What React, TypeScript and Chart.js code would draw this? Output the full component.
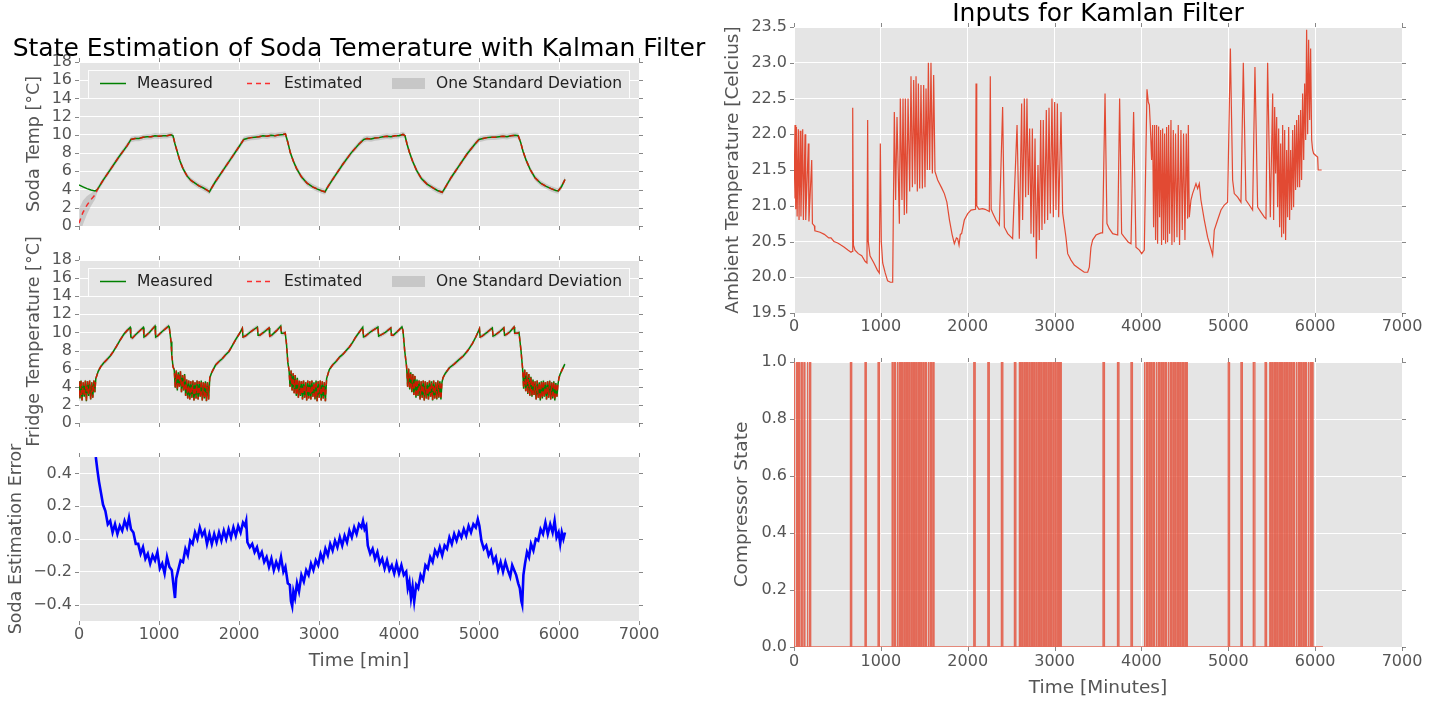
import React, { useEffect, useRef } from "react";
import { Chart, registerables } from "chart.js";
Chart.register(...registerables);

const FONT = "'DejaVu Sans', 'Liberation Sans', sans-serif";
Chart.defaults.font.family = FONT;

// ---------------- tick labels ----------------
const timeTicks = [0, 1000, 2000, 3000, 4000, 5000, 6000, 7000];
const tempTicks = [0, 2, 4, 6, 8, 10, 12, 14, 16, 18];
const errorTicks = [-0.4, -0.2, 0, 0.2, 0.4];
const ambientTicks = [19.5, 20, 20.5, 21, 21.5, 22, 22.5, 23, 23.5];
const compressorTicks = [0, 0.2, 0.4, 0.6, 0.8, 1.0];

const leftTitle = "State Estimation of Soda Temerature with Kalman Filter";
const rightTitle = "Inputs for Kamlan Filter";
const legendLabels = ["Measured", "Estimated", "One Standard Deviation"];

// ---------------- soda temperature [t(min), °C] ----------------
const sodaMeasured: [number, number][] = [
  [0, 4.5], [50, 4.3], [100, 4.1], [150, 3.95], [200, 3.85], [230, 4.0], [300, 5.0], [400, 6.3], [500, 7.6], [600, 8.8],
  [650, 9.5], [700, 9.6], [750, 9.6], [800, 9.75], [850, 9.8], [900, 9.8], [950, 9.9], [1000, 9.85], [1050, 9.9], [1100, 9.9],
  [1150, 10.0], [1175, 9.9], [1200, 9.0], [1230, 8.1], [1260, 7.2], [1300, 6.3], [1350, 5.5], [1400, 5.0], [1450, 4.7], [1500, 4.4],
  [1550, 4.2], [1600, 3.95], [1630, 3.75], [1660, 4.2], [1700, 4.8], [1800, 6.1], [1900, 7.4], [2000, 8.7], [2060, 9.5], [2100, 9.6],
  [2150, 9.7], [2200, 9.75], [2250, 9.8], [2300, 9.9], [2350, 9.85], [2400, 9.95], [2450, 9.9], [2500, 10.0], [2550, 10.05], [2580, 10.1],
  [2610, 9.2], [2640, 8.1], [2680, 7.1], [2720, 6.3], [2780, 5.4], [2850, 4.7], [2920, 4.3], [2980, 4.05], [3040, 3.85], [3075, 3.75],
  [3110, 4.3], [3200, 5.5], [3300, 6.8], [3400, 8.0], [3500, 9.0], [3560, 9.5], [3600, 9.6], [3650, 9.55], [3700, 9.65], [3750, 9.7],
  [3800, 9.8], [3850, 9.85], [3900, 9.8], [3950, 9.9], [4000, 9.9], [4050, 10.05], [4075, 9.9], [4100, 9.0], [4130, 8.1], [4170, 7.1],
  [4220, 6.1], [4280, 5.2], [4350, 4.6], [4420, 4.2], [4480, 3.9], [4540, 3.7], [4570, 4.1], [4650, 5.3], [4750, 6.6], [4850, 7.9],
  [4950, 9.0], [5000, 9.5], [5050, 9.6], [5100, 9.7], [5150, 9.75], [5200, 9.75], [5250, 9.8], [5300, 9.85], [5350, 9.8], [5400, 9.9],
  [5450, 9.95], [5490, 9.9], [5520, 9.2], [5550, 8.2], [5590, 7.2], [5640, 6.2], [5700, 5.3], [5770, 4.7], [5840, 4.35], [5900, 4.1],
  [5960, 3.9], [5990, 3.85], [6030, 4.3], [6075, 5.1],
];
// the estimate starts low and joins the measurement near t = 230 min
const sodaEstimatedStart: [number, number][] = [[0, 0.3], [50, 1.5], [100, 2.3], [150, 2.9], [200, 3.4]];
const sodaStdStart: [number, number][] = [[0, 1.6], [50, 1.3], [100, 1.0], [150, 0.7], [200, 0.5]];
const sodaStdSteady = 0.3;

// ---------------- fridge temperature [t(min), °C] ----------------
const fridgeMeasured: [number, number][] = [
  [0, 4.6], [12, 2.7], [25, 4.7], [38, 2.5], [52, 4.5], [65, 2.9], [80, 4.7], [92, 2.4], [106, 4.6], [120, 3.0],
  [133, 4.7], [146, 2.6], [160, 4.5], [172, 2.8], [186, 4.7], [198, 3.4],
  [210, 4.9], [240, 5.7], [270, 6.2], [305, 6.6], [350, 7.0], [390, 7.4], [430, 7.9], [470, 8.5], [510, 9.1], [560, 9.8],
  [600, 10.2], [640, 10.55], [648, 9.5], [670, 9.4], [700, 9.7], [750, 10.1], [805, 10.55], [812, 9.5], [830, 9.6], [880, 10.0],
  [950, 10.7], [958, 9.5], [980, 9.6], [1040, 10.1], [1120, 10.7], [1128, 10.6], [1150, 9.0], [1160, 7.5], [1175, 6.2],
  [1190, 5.9], [1203, 3.9], [1216, 5.8], [1229, 3.6], [1242, 5.6], [1255, 4.0], [1268, 5.7], [1281, 3.4], [1294, 5.3], [1307, 3.6],
  [1320, 5.4], [1333, 3.0], [1346, 4.8], [1359, 2.7], [1372, 4.7], [1385, 2.6], [1398, 4.6], [1411, 2.8], [1424, 4.7], [1437, 2.5],
  [1450, 4.5], [1463, 2.7], [1476, 4.7], [1489, 2.6], [1502, 4.6], [1515, 2.9], [1528, 4.7], [1541, 2.5], [1554, 4.5], [1567, 2.7],
  [1580, 4.6], [1593, 2.4], [1606, 4.5], [1620, 2.6],
  [1635, 5.0], [1660, 5.6], [1707, 6.4], [1750, 6.8], [1790, 7.1], [1830, 7.5], [1874, 7.9], [1920, 8.6], [1958, 9.2], [2000, 9.8],
  [2042, 10.45], [2050, 9.5], [2080, 9.6], [2150, 10.1], [2230, 10.6], [2238, 9.7], [2260, 9.7], [2320, 10.1], [2376, 10.5], [2384, 9.6],
  [2410, 9.7], [2470, 10.2], [2522, 10.7], [2530, 9.9], [2560, 9.9], [2577, 10.0], [2594, 8.7], [2611, 6.6], [2625, 5.9],
  [2638, 4.0], [2651, 5.8], [2664, 3.6], [2677, 5.5], [2690, 3.3], [2703, 5.3], [2716, 3.0], [2729, 5.0], [2742, 2.8], [2755, 4.7],
  [2768, 3.0], [2781, 4.6], [2794, 2.6], [2807, 4.7], [2820, 2.8], [2833, 4.5], [2846, 2.5], [2859, 4.7], [2872, 2.7], [2885, 4.6],
  [2898, 2.6], [2911, 4.7], [2924, 2.9], [2937, 4.5], [2950, 2.6], [2963, 4.7], [2976, 2.4], [2989, 4.6], [3002, 2.8], [3015, 4.7],
  [3028, 2.5], [3041, 4.6], [3054, 2.7], [3067, 4.5], [3080, 2.4],
  [3095, 4.9], [3129, 5.9], [3170, 6.4], [3213, 6.8], [3260, 7.3], [3300, 7.6], [3340, 8.0], [3380, 8.4], [3420, 8.9], [3460, 9.5],
  [3500, 10.0], [3547, 10.56], [3556, 9.5], [3580, 9.6], [3650, 10.1], [3737, 10.6], [3745, 9.6], [3770, 9.7], [3830, 10.0], [3898, 10.5],
  [3906, 9.7], [3930, 9.7], [3980, 10.1], [4037, 10.6], [4050, 10.2], [4071, 8.0], [4095, 6.2],
  [4108, 4.0], [4121, 6.0], [4134, 3.7], [4147, 5.6], [4160, 3.4], [4173, 5.4], [4186, 3.1], [4199, 5.2], [4212, 2.8], [4225, 4.8],
  [4238, 3.0], [4251, 4.7], [4264, 2.6], [4277, 4.6], [4290, 2.8], [4303, 4.7], [4316, 2.5], [4329, 4.6], [4342, 2.7], [4355, 4.5],
  [4368, 2.6], [4381, 4.7], [4394, 2.9], [4407, 4.6], [4420, 2.5], [4433, 4.7], [4446, 2.7], [4459, 4.5], [4472, 2.6], [4485, 4.7],
  [4498, 2.8], [4511, 4.6], [4524, 2.6], [4537, 4.5],
  [4550, 5.0], [4580, 5.5], [4630, 6.1], [4689, 6.5], [4750, 7.0], [4804, 7.4], [4860, 8.0], [4919, 8.8], [4960, 9.5], [5006, 10.4],
  [5014, 9.5], [5040, 9.6], [5100, 10.0], [5167, 10.5], [5175, 9.6], [5200, 9.7], [5260, 10.1], [5311, 10.5], [5319, 9.7], [5345, 9.8],
  [5390, 10.1], [5438, 10.6], [5446, 9.9], [5480, 9.9], [5500, 10.0], [5525, 8.0], [5545, 6.0],
  [5558, 3.8], [5571, 5.9], [5584, 3.5], [5597, 5.6], [5610, 3.2], [5623, 5.4], [5636, 3.0], [5649, 5.1], [5662, 2.9], [5675, 4.8],
  [5688, 3.1], [5701, 4.6], [5714, 2.6], [5727, 4.7], [5740, 2.8], [5753, 4.5], [5766, 2.5], [5779, 4.6], [5792, 2.7], [5805, 4.7],
  [5818, 2.9], [5831, 4.5], [5844, 2.6], [5857, 4.6], [5870, 2.8], [5883, 4.7], [5896, 2.6], [5909, 4.5], [5922, 2.7], [5935, 4.6],
  [5948, 2.5], [5961, 4.4], [5974, 2.9], [5986, 4.2],
  [6000, 5.0], [6015, 5.4], [6040, 5.9], [6073, 6.5],
];
const fridgeStd = 0.25;

// ---------------- soda estimation error [t(min), °C] ----------------
const errorReadings: [number, number][] = [
  [210, 0.5], [230, 0.42], [250, 0.35], [275, 0.28], [300, 0.21], [330, 0.17], [360, 0.09], [390, 0.11], [420, 0.04], [450, 0.09],
  [480, 0.03], [510, 0.08], [540, 0.05], [570, 0.11], [600, 0.07], [625, 0.13], [650, 0.06], [680, 0.04], [710, -0.03], [740, -0.03],
  [770, -0.09], [800, -0.05], [830, -0.12], [860, -0.09], [890, -0.15], [920, -0.1], [950, -0.13], [980, -0.08], [1010, -0.18], [1040, -0.15],
  [1070, -0.21], [1100, -0.11], [1130, -0.17], [1160, -0.19], [1185, -0.3], [1200, -0.36], [1215, -0.24], [1240, -0.19], [1270, -0.13], [1300, -0.14],
  [1330, -0.06], [1360, -0.1], [1390, -0.01], [1420, -0.03], [1450, 0.04], [1480, 0.0], [1510, 0.07], [1540, 0.02], [1570, 0.05], [1600, -0.03],
  [1630, 0.03], [1660, -0.03], [1690, 0.03], [1720, -0.02], [1750, 0.04], [1780, -0.01], [1810, 0.05], [1840, 0.0], [1870, 0.06], [1900, 0.01],
  [1930, 0.07], [1960, 0.02], [1990, 0.08], [2020, 0.04], [2050, 0.1], [2075, 0.08], [2090, 0.11], [2105, -0.02], [2135, -0.05], [2165, -0.03],
  [2195, -0.08], [2225, -0.05], [2255, -0.11], [2285, -0.08], [2315, -0.14], [2345, -0.11], [2375, -0.17], [2405, -0.12], [2435, -0.19], [2465, -0.14],
  [2495, -0.18], [2525, -0.11], [2555, -0.2], [2580, -0.17], [2610, -0.27], [2635, -0.28], [2650, -0.38], [2665, -0.41], [2680, -0.32], [2700, -0.36],
  [2725, -0.27], [2750, -0.32], [2780, -0.22], [2810, -0.26], [2840, -0.19], [2870, -0.22], [2900, -0.15], [2930, -0.19], [2960, -0.13], [2990, -0.16],
  [3020, -0.09], [3050, -0.13], [3080, -0.06], [3110, -0.1], [3140, -0.03], [3170, -0.07], [3200, -0.01], [3230, -0.05], [3260, 0.01], [3290, -0.04],
  [3320, 0.02], [3350, -0.02], [3380, 0.05], [3410, 0.01], [3440, 0.07], [3470, 0.03], [3500, 0.09], [3530, 0.07], [3550, 0.11], [3570, 0.06],
  [3590, 0.08], [3610, -0.04], [3640, -0.09], [3670, -0.06], [3700, -0.12], [3730, -0.08], [3760, -0.15], [3790, -0.12], [3820, -0.18], [3850, -0.13],
  [3880, -0.19], [3910, -0.16], [3940, -0.21], [3970, -0.15], [4000, -0.21], [4030, -0.16], [4060, -0.22], [4090, -0.2], [4110, -0.3], [4130, -0.26],
  [4150, -0.36], [4170, -0.29], [4190, -0.38], [4215, -0.28], [4240, -0.3], [4270, -0.22], [4300, -0.25], [4330, -0.16], [4360, -0.18], [4390, -0.11],
  [4420, -0.14], [4450, -0.07], [4480, -0.1], [4510, -0.05], [4540, -0.1], [4570, -0.04], [4600, -0.06], [4630, 0.01], [4660, -0.03], [4690, 0.03],
  [4720, -0.01], [4750, 0.04], [4780, 0.01], [4810, 0.06], [4840, 0.02], [4870, 0.08], [4900, 0.04], [4930, 0.09], [4960, 0.07], [4985, 0.12],
  [5005, 0.08], [5030, -0.01], [5060, -0.06], [5090, -0.04], [5120, -0.1], [5150, -0.07], [5180, -0.14], [5210, -0.11], [5240, -0.19], [5270, -0.14],
  [5300, -0.2], [5330, -0.14], [5360, -0.19], [5390, -0.23], [5415, -0.16], [5440, -0.19], [5465, -0.22], [5490, -0.27], [5510, -0.3], [5530, -0.38],
  [5540, -0.4], [5555, -0.22], [5575, -0.15], [5600, -0.08], [5625, -0.11], [5650, -0.03], [5680, -0.07], [5710, 0.0], [5740, -0.01], [5770, 0.06],
  [5800, 0.03], [5830, 0.1], [5860, 0.03], [5890, 0.09], [5920, 0.04], [5945, 0.11], [5970, 0.01], [5995, 0.04], [6015, -0.03], [6035, 0.04],
  [6055, 0.0], [6075, 0.04],
];

// ---------------- ambient temperature [t(min), °C] ----------------
const ambientReadings: [number, number][] = [
  [0, 21.1], [12, 22.13], [20, 20.95], [28, 22.1], [36, 20.85], [50, 22.07], [58, 20.8], [72, 22.05], [80, 20.85], [100, 22.07],
  [108, 20.8], [127, 22.0], [135, 20.8], [165, 21.87], [172, 20.78], [204, 21.64], [212, 20.75], [234, 20.72], [240, 20.65], [300, 20.63],
  [349, 20.6], [400, 20.55], [426, 20.55], [460, 20.5], [503, 20.48], [540, 20.45], [579, 20.42], [620, 20.38], [656, 20.35], [668, 20.36],
  [676, 22.37], [684, 20.45], [702, 20.38], [740, 20.33], [780, 20.3], [820, 20.22], [840, 20.2], [848, 22.2], [855, 20.5], [875, 20.3],
  [920, 20.2], [960, 20.1], [982, 20.06], [994, 21.87], [1005, 20.5], [1021, 20.2], [1050, 20.06], [1078, 19.95], [1110, 19.93], [1136, 19.93],
  [1155, 22.31], [1170, 21.08], [1186, 22.24], [1213, 20.75], [1224, 22.5], [1243, 21.08], [1255, 22.5], [1270, 20.87], [1282, 22.5], [1297, 20.89],
  [1313, 22.5], [1332, 21.2], [1347, 22.81], [1363, 21.26], [1378, 22.76], [1393, 21.3], [1405, 22.81], [1420, 21.2], [1432, 22.71], [1447, 21.24],
  [1462, 22.69], [1478, 21.24], [1493, 22.69], [1508, 21.26], [1520, 22.64], [1535, 21.5], [1547, 23.0], [1562, 21.5], [1577, 23.0], [1593, 21.45],
  [1608, 22.83], [1623, 21.48], [1654, 21.36], [1700, 21.25], [1731, 21.17], [1760, 21.05], [1790, 20.8], [1820, 20.6], [1846, 20.47], [1870, 20.55],
  [1884, 20.54], [1900, 20.45], [1915, 20.6], [1930, 20.61], [1961, 20.8], [2000, 20.89], [2038, 20.94], [2090, 20.95], [2096, 22.71], [2104, 21.0],
  [2130, 20.95], [2170, 20.96], [2200, 20.95], [2249, 20.92], [2260, 22.81], [2270, 20.95], [2290, 20.89], [2326, 20.8], [2364, 20.73], [2402, 22.38],
  [2422, 20.7], [2460, 20.61], [2517, 20.54], [2568, 22.13], [2594, 20.54], [2621, 22.43], [2632, 20.8], [2652, 22.5], [2667, 21.12], [2682, 22.5],
  [2698, 21.15], [2713, 22.08], [2729, 20.61], [2744, 22.08], [2759, 20.56], [2775, 21.94], [2790, 20.26], [2809, 21.57], [2824, 20.52], [2840, 22.2],
  [2855, 20.66], [2870, 22.2], [2886, 20.75], [2905, 22.34], [2920, 20.8], [2936, 22.37], [2951, 20.89], [2970, 22.5], [2986, 20.84], [3001, 22.45],
  [3016, 20.94], [3032, 22.43], [3047, 20.84], [3074, 22.31], [3093, 20.9], [3131, 20.56], [3151, 20.33], [3189, 20.24], [3227, 20.17], [3285, 20.12],
  [3342, 20.07], [3381, 20.07], [3400, 20.14], [3419, 20.42], [3438, 20.52], [3477, 20.59], [3534, 20.62], [3553, 20.62], [3581, 22.57], [3603, 20.75],
  [3630, 20.68], [3669, 20.61], [3727, 20.59], [3749, 22.5], [3772, 20.61], [3803, 20.56], [3849, 20.49], [3880, 20.47], [3910, 22.31], [3937, 20.42],
  [3976, 20.38], [4003, 20.33], [4033, 20.38], [4064, 22.63], [4079, 22.45], [4091, 22.41], [4102, 22.13], [4117, 21.64], [4129, 22.13], [4140, 20.7],
  [4152, 22.13], [4163, 20.52], [4175, 22.13], [4186, 20.47], [4198, 22.11], [4209, 20.84], [4221, 22.06], [4232, 20.45], [4244, 22.08], [4255, 20.52],
  [4267, 22.01], [4278, 20.47], [4290, 22.1], [4301, 20.49], [4313, 22.13], [4324, 20.61], [4340, 22.2], [4351, 20.45], [4367, 22.06], [4378, 20.49],
  [4393, 22.01], [4409, 20.56], [4424, 22.13], [4439, 20.45], [4455, 22.06], [4470, 20.66], [4485, 22.01], [4501, 20.52], [4516, 22.01], [4532, 20.82],
  [4540, 22.13], [4551, 20.84], [4570, 21.08], [4589, 21.17], [4609, 21.24], [4628, 21.31], [4647, 21.24], [4666, 21.31], [4685, 21.08], [4724, 20.8],
  [4762, 20.56], [4800, 20.4], [4820, 20.31], [4839, 20.66], [4877, 20.8], [4916, 20.94], [4954, 21.01], [4992, 21.05], [5024, 23.2], [5050, 21.36],
  [5069, 21.17], [5108, 21.12], [5146, 21.05], [5173, 23.0], [5203, 21.08], [5242, 21.01], [5280, 20.94], [5307, 22.94], [5338, 20.98], [5376, 20.91],
  [5415, 20.84], [5434, 20.82], [5453, 23.0], [5484, 20.84], [5511, 22.57], [5522, 20.8], [5534, 22.38], [5545, 21.45], [5557, 22.24], [5568, 20.98],
  [5580, 22.08], [5591, 20.7], [5603, 21.87], [5614, 20.56], [5626, 22.13], [5637, 20.61], [5649, 22.06], [5660, 20.52], [5672, 21.78], [5683, 20.84],
  [5695, 22.1], [5706, 20.8], [5718, 21.78], [5729, 20.94], [5741, 22.06], [5752, 20.98], [5764, 22.13], [5775, 21.22], [5787, 22.2], [5798, 21.26],
  [5810, 22.27], [5821, 21.26], [5833, 22.34], [5844, 21.36], [5856, 22.57], [5868, 21.64], [5879, 22.71], [5891, 21.92], [5902, 23.46], [5914, 22.0],
  [5925, 23.32], [5937, 22.2], [5948, 23.2], [5960, 21.92], [5971, 21.78], [5983, 21.73], [6010, 21.7], [6029, 21.68], [6035, 21.5], [6075, 21.5],
];

// ---------------- compressor on-intervals [start, end] (min) ----------------
const compressorOn: [number, number][] = [
  [0, 10], [30, 40], [55, 65], [85, 95], [115, 125], [150, 160], [180, 192],
  [650, 664], [818, 832], [968, 984],
  [1130, 1141], [1158, 1169], [1186, 1197], [1213, 1224], [1240, 1251], [1268, 1279], [1295, 1306], [1322, 1333], [1350, 1361],
  [1377, 1388], [1404, 1415], [1432, 1443], [1459, 1470], [1487, 1498], [1515, 1526], [1543, 1554], [1570, 1581], [1598, 1612],
  [2070, 2086], [2232, 2248], [2388, 2404], [2538, 2554],
  [2595, 2606], [2622, 2633], [2650, 2661], [2677, 2688], [2705, 2716], [2733, 2744], [2760, 2771], [2788, 2799], [2816, 2827],
  [2843, 2854], [2871, 2882], [2898, 2909], [2926, 2937], [2953, 2964], [2981, 2992], [3008, 3019], [3036, 3047], [3062, 3077],
  [3558, 3574], [3725, 3741], [3880, 3896],
  [4030, 4041], [4058, 4069], [4086, 4097], [4113, 4124], [4141, 4152], [4168, 4179], [4196, 4207], [4224, 4235], [4251, 4262],
  [4279, 4290], [4306, 4317], [4334, 4345], [4362, 4373], [4389, 4400], [4417, 4428], [4444, 4455], [4472, 4483], [4500, 4511],
  [4518, 4528],
  [5000, 5014], [5146, 5162], [5288, 5306], [5424, 5440],
  [5478, 5489], [5505, 5516], [5533, 5544], [5560, 5571], [5588, 5599], [5615, 5626], [5643, 5654], [5670, 5681], [5698, 5709],
  [5725, 5736], [5753, 5764], [5780, 5791], [5808, 5819], [5835, 5846], [5863, 5874], [5890, 5901], [5918, 5929], [5946, 5957],
  [5965, 5976],
];
const compressorLogEnd = 6090;

// ---------------- styles ----------------
const BG = "#E5E5E5";
const TICK_COLOR = "#555555";
const BAND = "rgba(136,136,136,0.32)";
const RED_DASH = "rgba(255,0,0,0.8)";
const GREEN = "#008000";
const ORANGE = "#E24A33";
const X_TITLE_SIZE = 18.5;

const pts = (arr: [number, number][]) => arr.map(([x, y]) => ({ x, y }));

const bgPlugin = {
  id: "axbg",
  beforeDraw(chart: any) {
    const { ctx, chartArea: a } = chart;
    ctx.save();
    ctx.fillStyle = BG;
    ctx.fillRect(a.left, a.top, a.right - a.left, a.bottom - a.top);
    ctx.restore();
  },
};

const tickMarkPlugin = {
  id: "tickmarks",
  afterDraw(chart: any) {
    const { ctx, chartArea: a, scales } = chart;
    ctx.save();
    ctx.strokeStyle = "rgba(85,85,85,0.7)";
    ctx.lineWidth = 1;
    ctx.beginPath();
    for (const t of scales.x.ticks) {
      const px = Math.round(scales.x.getPixelForValue(t.value)) + 0.5;
      ctx.moveTo(px, a.bottom); ctx.lineTo(px, a.bottom + 4);
      ctx.moveTo(px, a.top); ctx.lineTo(px, a.top - 4);
    }
    for (const t of scales.y.ticks) {
      const py = Math.round(scales.y.getPixelForValue(t.value)) + 0.5;
      ctx.moveTo(a.left - 4, py); ctx.lineTo(a.left, py);
      ctx.moveTo(a.right, py); ctx.lineTo(a.right + 4, py);
    }
    ctx.stroke();
    ctx.restore();
  },
};

const legendPlugin = {
  id: "mplLegend",
  afterDatasetsDraw(chart: any) {
    const { ctx, chartArea: a } = chart;
    const top = a.top + 7.5, h = 29, left = a.left + 9, right = a.right - 9, cy = a.top + 21.5;
    ctx.save();
    ctx.fillStyle = BG;
    ctx.fillRect(left, top, right - left, h);
    ctx.strokeStyle = "rgba(255,255,255,0.9)";
    ctx.lineWidth = 1;
    ctx.strokeRect(Math.round(left) + 0.5, Math.round(top) + 0.5, right - left - 1, h - 1);
    ctx.lineWidth = 1.5;
    ctx.strokeStyle = GREEN;
    ctx.beginPath(); ctx.moveTo(a.left + 21, cy); ctx.lineTo(a.left + 47, cy); ctx.stroke();
    ctx.strokeStyle = RED_DASH;
    ctx.setLineDash([5, 4]);
    ctx.beginPath(); ctx.moveTo(a.left + 168, cy); ctx.lineTo(a.left + 193, cy); ctx.stroke();
    ctx.setLineDash([]);
    ctx.fillStyle = BAND;
    ctx.fillRect(a.left + 313, cy - 5.5, 33, 11);
    ctx.fillStyle = "#222";
    ctx.font = `15.5px ${FONT}`;
    ctx.textBaseline = "middle";
    ctx.textAlign = "left";
    ctx.fillText(legendLabels[0], a.left + 58, cy);
    ctx.fillText(legendLabels[1], a.left + 205, cy);
    ctx.fillText(legendLabels[2], a.left + 357, cy);
    ctx.restore();
  },
};

type Panel = {
  L: number; T: number; R: number; B: number;
  yTitle: string; yTitleCenter: number; yTitleSize: number;
  yMin: number; yMax: number; yTicks: number[]; yFmt: (v: number) => string;
  showXLabels: boolean; xLabelPad: number; xTitle?: string; xTitleCenter?: number; xAxisH: number;
  datasets: any[]; plugins: any[];
};

function buildConfig(p: Panel): any {
  const yLH = p.yTitleSize * 1.2;
  const Wy = p.L - (p.yTitleCenter - yLH / 2);
  let Hx = p.xAxisH;
  if (p.xTitle && p.xTitleCenter !== undefined) Hx = p.xTitleCenter - p.B + (X_TITLE_SIZE * 1.2) / 2;
  return {
    type: "line",
    data: { datasets: p.datasets },
    options: {
      responsive: false,
      animation: false,
      events: [],
      layout: { padding: { left: p.L - Wy, top: p.T, right: 1446 - p.R, bottom: 704 - p.B - Hx } },
      plugins: { legend: { display: false }, tooltip: { enabled: false }, title: { display: false } },
      elements: { point: { radius: 0 }, line: { tension: 0 } },
      scales: {
        x: {
          type: "linear", min: 0, max: 7000,
          afterBuildTicks: (s: any) => { s.ticks = timeTicks.map((v) => ({ value: v })); },
          afterFit: (s: any) => { s.height = Hx; },
          grid: { color: "#FFFFFF", lineWidth: 1, drawTicks: false },
          border: { display: false },
          ticks: {
            display: p.showXLabels, color: TICK_COLOR, font: { size: 16, family: FONT },
            padding: p.xLabelPad, maxRotation: 0, autoSkip: false, callback: (v: any) => String(v),
          },
          title: p.xTitle
            ? { display: true, text: p.xTitle, color: TICK_COLOR, font: { size: X_TITLE_SIZE, family: FONT }, padding: 0 }
            : { display: false },
        },
        y: {
          type: "linear", min: p.yMin, max: p.yMax,
          afterBuildTicks: (s: any) => { s.ticks = p.yTicks.map((v) => ({ value: v })); },
          afterFit: (s: any) => { s.width = Wy; },
          grid: { color: "#FFFFFF", lineWidth: 1, drawTicks: false },
          border: { display: false },
          ticks: { color: TICK_COLOR, font: { size: 16, family: FONT }, padding: 7, autoSkip: false, callback: (v: any) => p.yFmt(Number(v)) },
          title: { display: true, text: p.yTitle, color: TICK_COLOR, font: { size: p.yTitleSize, family: FONT }, padding: 0 },
        },
      },
    },
    plugins: [bgPlugin, ...p.plugins, tickMarkPlugin],
  };
}

const intFmt = (v: number) => String(Math.round(v));
const oneDec = (v: number) => (v < -1e-9 ? "\u2212" : "") + Math.abs(v).toFixed(1);

function sodaConfig() {
  const estimated = [
    ...sodaEstimatedStart,
    ...sodaMeasured.filter(([t]) => t > sodaEstimatedStart[sodaEstimatedStart.length - 1][0]),
  ];
  const stdAt = (t: number) => {
    const hit = sodaStdStart.find(([ts]) => ts === t);
    return hit ? hit[1] : sodaStdSteady;
  };
  const upper = estimated.map(([t, v]) => ({ x: t, y: v + stdAt(t) }));
  const lower = estimated.map(([t, v]) => ({ x: t, y: v - stdAt(t) }));
  return buildConfig({
    L: 79, T: 62, R: 639, B: 226,
    yTitle: "Soda Temp [\u00B0C]", yTitleCenter: 34, yTitleSize: 17.5,
    yMin: 0, yMax: 18, yTicks: tempTicks, yFmt: intFmt,
    showXLabels: false, xLabelPad: 4, xAxisH: 0,
    datasets: [
      { data: pts(estimated), borderColor: RED_DASH, borderDash: [5, 4], borderWidth: 1.5, fill: false },
      { data: pts(sodaMeasured), borderColor: GREEN, borderWidth: 1.5, fill: false },
      { data: upper, borderWidth: 0, borderColor: "rgba(0,0,0,0)", backgroundColor: BAND, fill: "+1" },
      { data: lower, borderWidth: 0, borderColor: "rgba(0,0,0,0)", fill: false },
    ],
    plugins: [legendPlugin],
  });
}

function fridgeConfig() {
  const upper = fridgeMeasured.map(([t, v]) => ({ x: t, y: v + fridgeStd }));
  const lower = fridgeMeasured.map(([t, v]) => ({ x: t, y: v - fridgeStd }));
  return buildConfig({
    L: 79, T: 260, R: 639, B: 423,
    yTitle: "Fridge Temperature [\u00B0C]", yTitleCenter: 34, yTitleSize: 17.5,
    yMin: 0, yMax: 18, yTicks: tempTicks, yFmt: intFmt,
    showXLabels: false, xLabelPad: 4, xAxisH: 0,
    datasets: [
      { data: pts(fridgeMeasured), borderColor: RED_DASH, borderDash: [5, 4], borderWidth: 1.5, fill: false },
      { data: pts(fridgeMeasured), borderColor: GREEN, borderWidth: 1.5, fill: false },
      { data: upper, borderWidth: 0, borderColor: "rgba(0,0,0,0)", backgroundColor: BAND, fill: "+1" },
      { data: lower, borderWidth: 0, borderColor: "rgba(0,0,0,0)", fill: false },
    ],
    plugins: [legendPlugin],
  });
}

function errorConfig() {
  return buildConfig({
    L: 79, T: 457, R: 639, B: 621,
    yTitle: "Soda Estimation Error", yTitleCenter: 16, yTitleSize: 17.5,
    yMin: -0.5, yMax: 0.5, yTicks: errorTicks, yFmt: oneDec,
    showXLabels: true, xLabelPad: 4, xTitle: "Time [min]", xTitleCenter: 661, xAxisH: 0,
    datasets: [{ data: pts(errorReadings), borderColor: "#0000FF", borderWidth: 2.6, fill: false }],
    plugins: [],
  });
}

function ambientConfig() {
  return buildConfig({
    L: 794, T: 27, R: 1402, B: 313,
    yTitle: "Ambient Temperature [Celcius]", yTitleCenter: 733, yTitleSize: 18.5,
    yMin: 19.5, yMax: 23.5, yTicks: ambientTicks, yFmt: oneDec,
    showXLabels: true, xLabelPad: 4, xAxisH: 30,
    datasets: [{ data: pts(ambientReadings), borderColor: ORANGE, borderWidth: 1.2, fill: false }],
    plugins: [],
  });
}

function compressorConfig() {
  const steps: { x: number; y: number }[] = [{ x: 0, y: 0 }];
  for (const [s, e] of compressorOn) {
    steps.push({ x: s, y: 0 }, { x: s, y: 1 }, { x: e, y: 1 }, { x: e, y: 0 });
  }
  steps.push({ x: compressorLogEnd, y: 0 });
  return buildConfig({
    L: 794, T: 362, R: 1402, B: 647,
    yTitle: "Compressor State", yTitleCenter: 742, yTitleSize: 18.5,
    yMin: 0, yMax: 1, yTicks: compressorTicks, yFmt: oneDec,
    showXLabels: true, xLabelPad: 5, xTitle: "Time [Minutes]", xTitleCenter: 688, xAxisH: 0,
    datasets: [{ data: steps, borderColor: "rgba(226,74,51,0.8)", borderWidth: 1.35, fill: false }],
    plugins: [],
  });
}

export default function App() {
  const r1 = useRef<HTMLCanvasElement>(null);
  const r2 = useRef<HTMLCanvasElement>(null);
  const r3 = useRef<HTMLCanvasElement>(null);
  const r4 = useRef<HTMLCanvasElement>(null);
  const r5 = useRef<HTMLCanvasElement>(null);

  useEffect(() => {
    const refs = [r1, r2, r3, r4, r5];
    const cfgs = [sodaConfig(), fridgeConfig(), errorConfig(), ambientConfig(), compressorConfig()];
    const charts = cfgs.map((cfg, i) => new Chart(refs[i].current as HTMLCanvasElement, cfg));
    return () => charts.forEach((c) => c.destroy());
  }, []);

  const cs: React.CSSProperties = { position: "absolute", left: 0, top: 0, width: 1446, height: 704 };
  const titleStyle: React.CSSProperties = {
    position: "absolute", textAlign: "center", font: `25px ${FONT}`, lineHeight: "30px",
    height: 30, color: "#000", whiteSpace: "nowrap",
  };
  return (
    <div style={{ position: "absolute", left: 0, top: 0, width: 1446, height: 704, background: "#fff", overflow: "hidden" }}>
      <canvas ref={r1} width={1446} height={704} style={cs} />
      <canvas ref={r2} width={1446} height={704} style={cs} />
      <canvas ref={r3} width={1446} height={704} style={cs} />
      <canvas ref={r4} width={1446} height={704} style={cs} />
      <canvas ref={r5} width={1446} height={704} style={cs} />
      <div style={{ ...titleStyle, left: 359 - 400, width: 800, top: 33 }}>{leftTitle}</div>
      <div style={{ ...titleStyle, left: 1098 - 300, width: 600, top: -2 }}>{rightTitle}</div>
    </div>
  );
}
